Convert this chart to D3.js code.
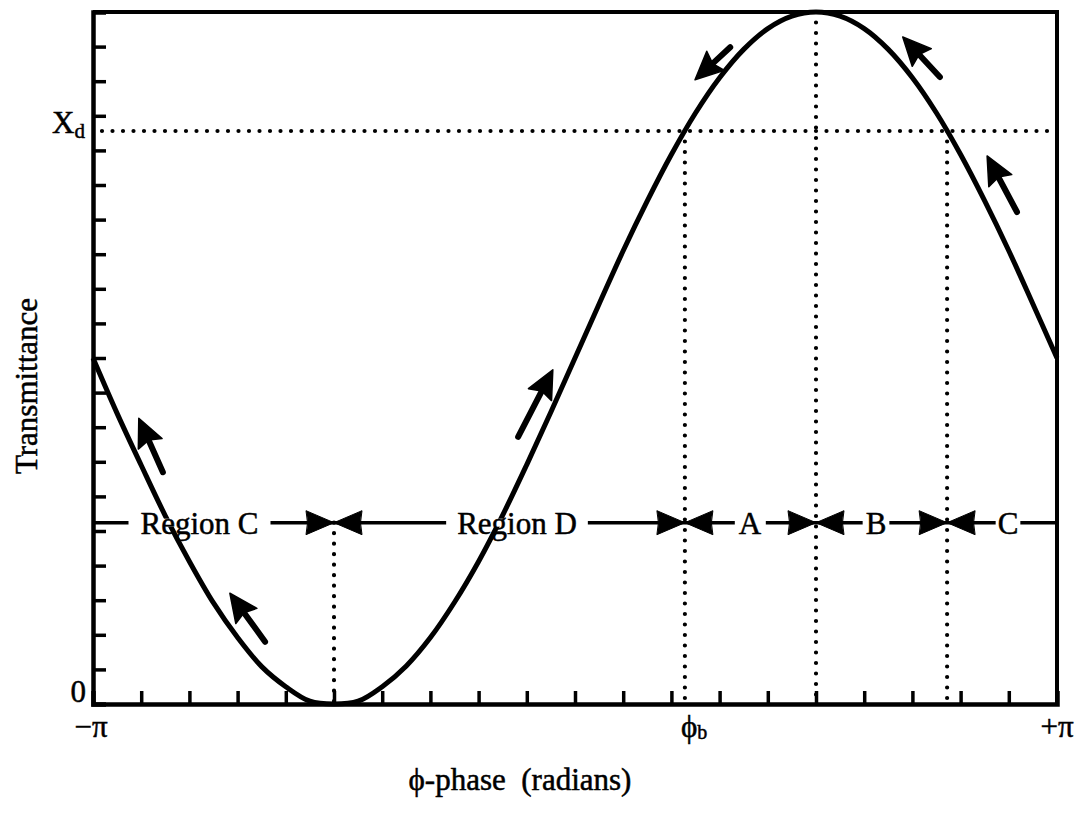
<!DOCTYPE html>
<html>
<head>
<meta charset="utf-8">
<script src="https://cdn.jsdelivr.net/npm/d3@7"></script>
<style>
  html, body { margin: 0; padding: 0; background: #fff; }
  svg { display: block; }
  text { font-family: "Liberation Serif", "Times New Roman", serif; fill: #000; stroke: #000; stroke-width: 0.5px; }
</style>
</head>
<body>
<svg id="chart" width="1080" height="814"></svg>
<script>
// ---------- data (phase in units of pi, transmittance 0..1) ----------
const phasePi = [-1, -0.95, -0.9, -0.85, -0.8, -0.75, -0.7, -0.65, -0.6, -0.55, -0.5,
  -0.45, -0.4, -0.35, -0.3, -0.25, -0.2, -0.15, -0.1, -0.05, 0,
  0.05, 0.1, 0.15, 0.2, 0.25, 0.3, 0.35, 0.4, 0.45, 0.5,
  0.55, 0.6, 0.65, 0.7, 0.75, 0.8, 0.85, 0.9, 0.95, 1];
const transmittance = [0.50, 0.42, 0.345, 0.272, 0.206, 0.146, 0.096, 0.054, 0.025, 0.004, 0.0,
  0.004, 0.025, 0.055, 0.096, 0.147, 0.206, 0.273, 0.346, 0.422, 0.50,
  0.578, 0.655, 0.727, 0.794, 0.854, 0.905, 0.946, 0.976, 0.994, 1.0,
  0.994, 0.976, 0.946, 0.905, 0.854, 0.794, 0.727, 0.655, 0.578, 0.50];

const xTickValues = [-0.9, -0.8, -0.7, -0.6, -0.5, -0.4, -0.3, -0.2, -0.1, 0,
  0.1, 0.2, 0.3, 0.4, 0.5, 0.6, 0.7, 0.8, 0.9];
const yTickValues = [0.05, 0.1, 0.15, 0.2, 0.25, 0.3, 0.35, 0.4, 0.45, 0.5,
  0.55, 0.6, 0.65, 0.7, 0.75, 0.8, 0.85, 0.9, 0.95];

const xd = 0.828;                       // threshold transmittance X_d
const regionLevel = 0.262;              // level of the region marker line
const boundaries = [-0.5, 0.228, 0.5, 0.772];   // phase/pi of region boundaries
const regionLabels = ["Region C", "Region D", "A", "B", "C"];
// direction arrows on the curve: [tipPhase, tipT, tailPhase, tailT]
const curveArrows = [
  [-0.905, 0.413, -0.855, 0.335],
  [-0.716, 0.160, -0.643, 0.090],
  [-0.046, 0.483, -0.118, 0.386],
  [0.249, 0.902, 0.322, 0.949],
  [0.680, 0.964, 0.757, 0.906],
  [0.855, 0.792, 0.917, 0.711]
];

// ---------- layout ----------
const L = 93, R = 1057, T = 12, B = 704;
const x = d3.scaleLinear().domain([-1, 1]).range([L, R]);
const y = d3.scaleLinear().domain([0, 1]).range([B, T]);
const svg = d3.select("#chart");

// dotted guide lines
const dotted = (g) => g.attr("stroke", "#000").attr("stroke-width", 4.2)
  .attr("stroke-linecap", "round").attr("stroke-dasharray", "0 10.5").attr("fill", "none");
const guides = [
  [x(-1) + 9, y(xd), R, y(xd)],
  [x(boundaries[1]), y(xd), x(boundaries[1]), B],
  [x(boundaries[2]), T, x(boundaries[2]), B],
  [x(boundaries[3]), y(xd), x(boundaries[3]), B],
  [x(boundaries[0]), y(regionLevel), x(boundaries[0]), B]
];
svg.append("g").selectAll("line").data(guides).join("line")
  .attr("x1", d => d[0]).attr("y1", d => d[1]).attr("x2", d => d[2]).attr("y2", d => d[3])
  .call(dotted);

// axes (ticks pointing inward, no labels)
const xAxis = d3.axisBottom(x).tickValues(xTickValues).tickSize(-13).tickFormat("");
const yAxis = d3.axisLeft(y).tickValues(yTickValues).tickSize(-13).tickFormat("");
const gx = svg.append("g").attr("transform", `translate(0,${B})`).call(xAxis);
const gy = svg.append("g").attr("transform", `translate(${L},0)`).call(yAxis);
[gx, gy].forEach(g => {
  g.select(".domain").attr("stroke", "#000").attr("stroke-width", 4.5);
  g.selectAll(".tick line").attr("stroke", "#000").attr("stroke-width", 3.5);
});
// top and right frame
svg.append("path")
  .attr("d", `M${L},${T}H${R}V${B}`)
  .attr("fill", "none").attr("stroke", "#000").attr("stroke-width", 4);

// curve
const line = d3.line().x((d, i) => x(phasePi[i])).y(d => y(d)).curve(d3.curveCatmullRom);
svg.append("path").datum(transmittance)
  .attr("d", line).attr("fill", "none").attr("stroke", "#000")
  .attr("stroke-width", 5).attr("stroke-linejoin", "round");

// curve direction arrows
const headLen = 28, headHalf = 13;
const ga = svg.append("g");
curveArrows.forEach(a => {
  const tx = x(a[0]), ty = y(a[1]), sx = x(a[2]), sy = y(a[3]);
  const dx = tx - sx, dy = ty - sy, len = Math.hypot(dx, dy);
  const ux = dx / len, uy = dy / len;
  const bx = tx - ux * headLen, by = ty - uy * headLen;
  ga.append("line").attr("x1", sx).attr("y1", sy).attr("x2", bx + ux * 3).attr("y2", by + uy * 3)
    .attr("stroke", "#000").attr("stroke-width", 6).attr("stroke-linecap", "round");
  ga.append("path")
    .attr("d", `M${tx},${ty}L${bx - uy * headHalf},${by + ux * headHalf}L${bx + ux * 4},${by + uy * 4}L${bx + uy * headHalf},${by - ux * headHalf}Z`)
    .attr("fill", "#000").attr("stroke", "#000").attr("stroke-width", 1.5).attr("stroke-linejoin", "round");
});

// region marker line
const ry = y(regionLevel);
svg.append("line").attr("x1", L).attr("x2", R).attr("y1", ry).attr("y2", ry)
  .attr("stroke", "#000").attr("stroke-width", 3.5);

// region labels with white gaps
const labelCenters = [199.5, 517, 750, 876, 1008];
const labelPads = [12, 11, 4, 3, 2];
const gl = svg.append("g");
regionLabels.forEach((t, i) => {
  const txt = gl.append("text").attr("x", labelCenters[i]).attr("y", ry + 11)
    .attr("text-anchor", "middle").attr("font-size", 31).text(t);
  const bb = txt.node().getBBox();
  gl.insert("rect", "text").attr("x", bb.x - labelPads[i]).attr("y", ry - 4)
    .attr("width", bb.width + 2 * labelPads[i]).attr("height", 8).attr("fill", "#fff");
});

// boundary arrowheads (pointing at boundaries from both sides)
const bLen = 28, bHalf = 12;
boundaries.forEach(b => {
  const bx = x(b);
  [-1, 1].forEach(s => {
    const base = bx + s * bLen;
    svg.append("path")
      .attr("d", `M${bx},${ry}L${base},${ry - bHalf}Q${base - s * 3},${ry} ${base},${ry + bHalf}Z`)
      .attr("fill", "#000").attr("stroke", "#000").attr("stroke-width", 1).attr("stroke-linejoin", "round");
  });
});

// tick labels
const fs = 31;
svg.append("text").attr("x", x(-1) - 2).attr("y", 737).attr("text-anchor", "middle")
  .attr("font-size", fs).text("−π");
svg.append("text").attr("x", x(1)).attr("y", 737).attr("text-anchor", "middle")
  .attr("font-size", fs).text("+π");
const phb = svg.append("text").attr("x", x(boundaries[1]) - 4).attr("y", 737).attr("font-size", fs);
phb.append("tspan").text("ϕ");
phb.append("tspan").attr("font-size", 20).attr("dy", 2).text("b");
svg.append("text").attr("x", 86).attr("y", 702).attr("text-anchor", "end")
  .attr("font-size", fs).text("0");
const xdl = svg.append("text").attr("x", 52).attr("y", 133).attr("font-size", fs);
xdl.append("tspan").text("X");
xdl.append("tspan").attr("font-size", 21).attr("dy", 5).text("d");

// axis titles
svg.append("text").attr("transform", "translate(37,386) rotate(-90)")
  .attr("text-anchor", "middle").attr("font-size", fs).text("Transmittance");
svg.append("text").attr("x", 520).attr("y", 790).attr("text-anchor", "middle")
  .attr("font-size", fs).style("white-space", "pre").text("ϕ-phase  (radians)");
</script>
</body>
</html>
